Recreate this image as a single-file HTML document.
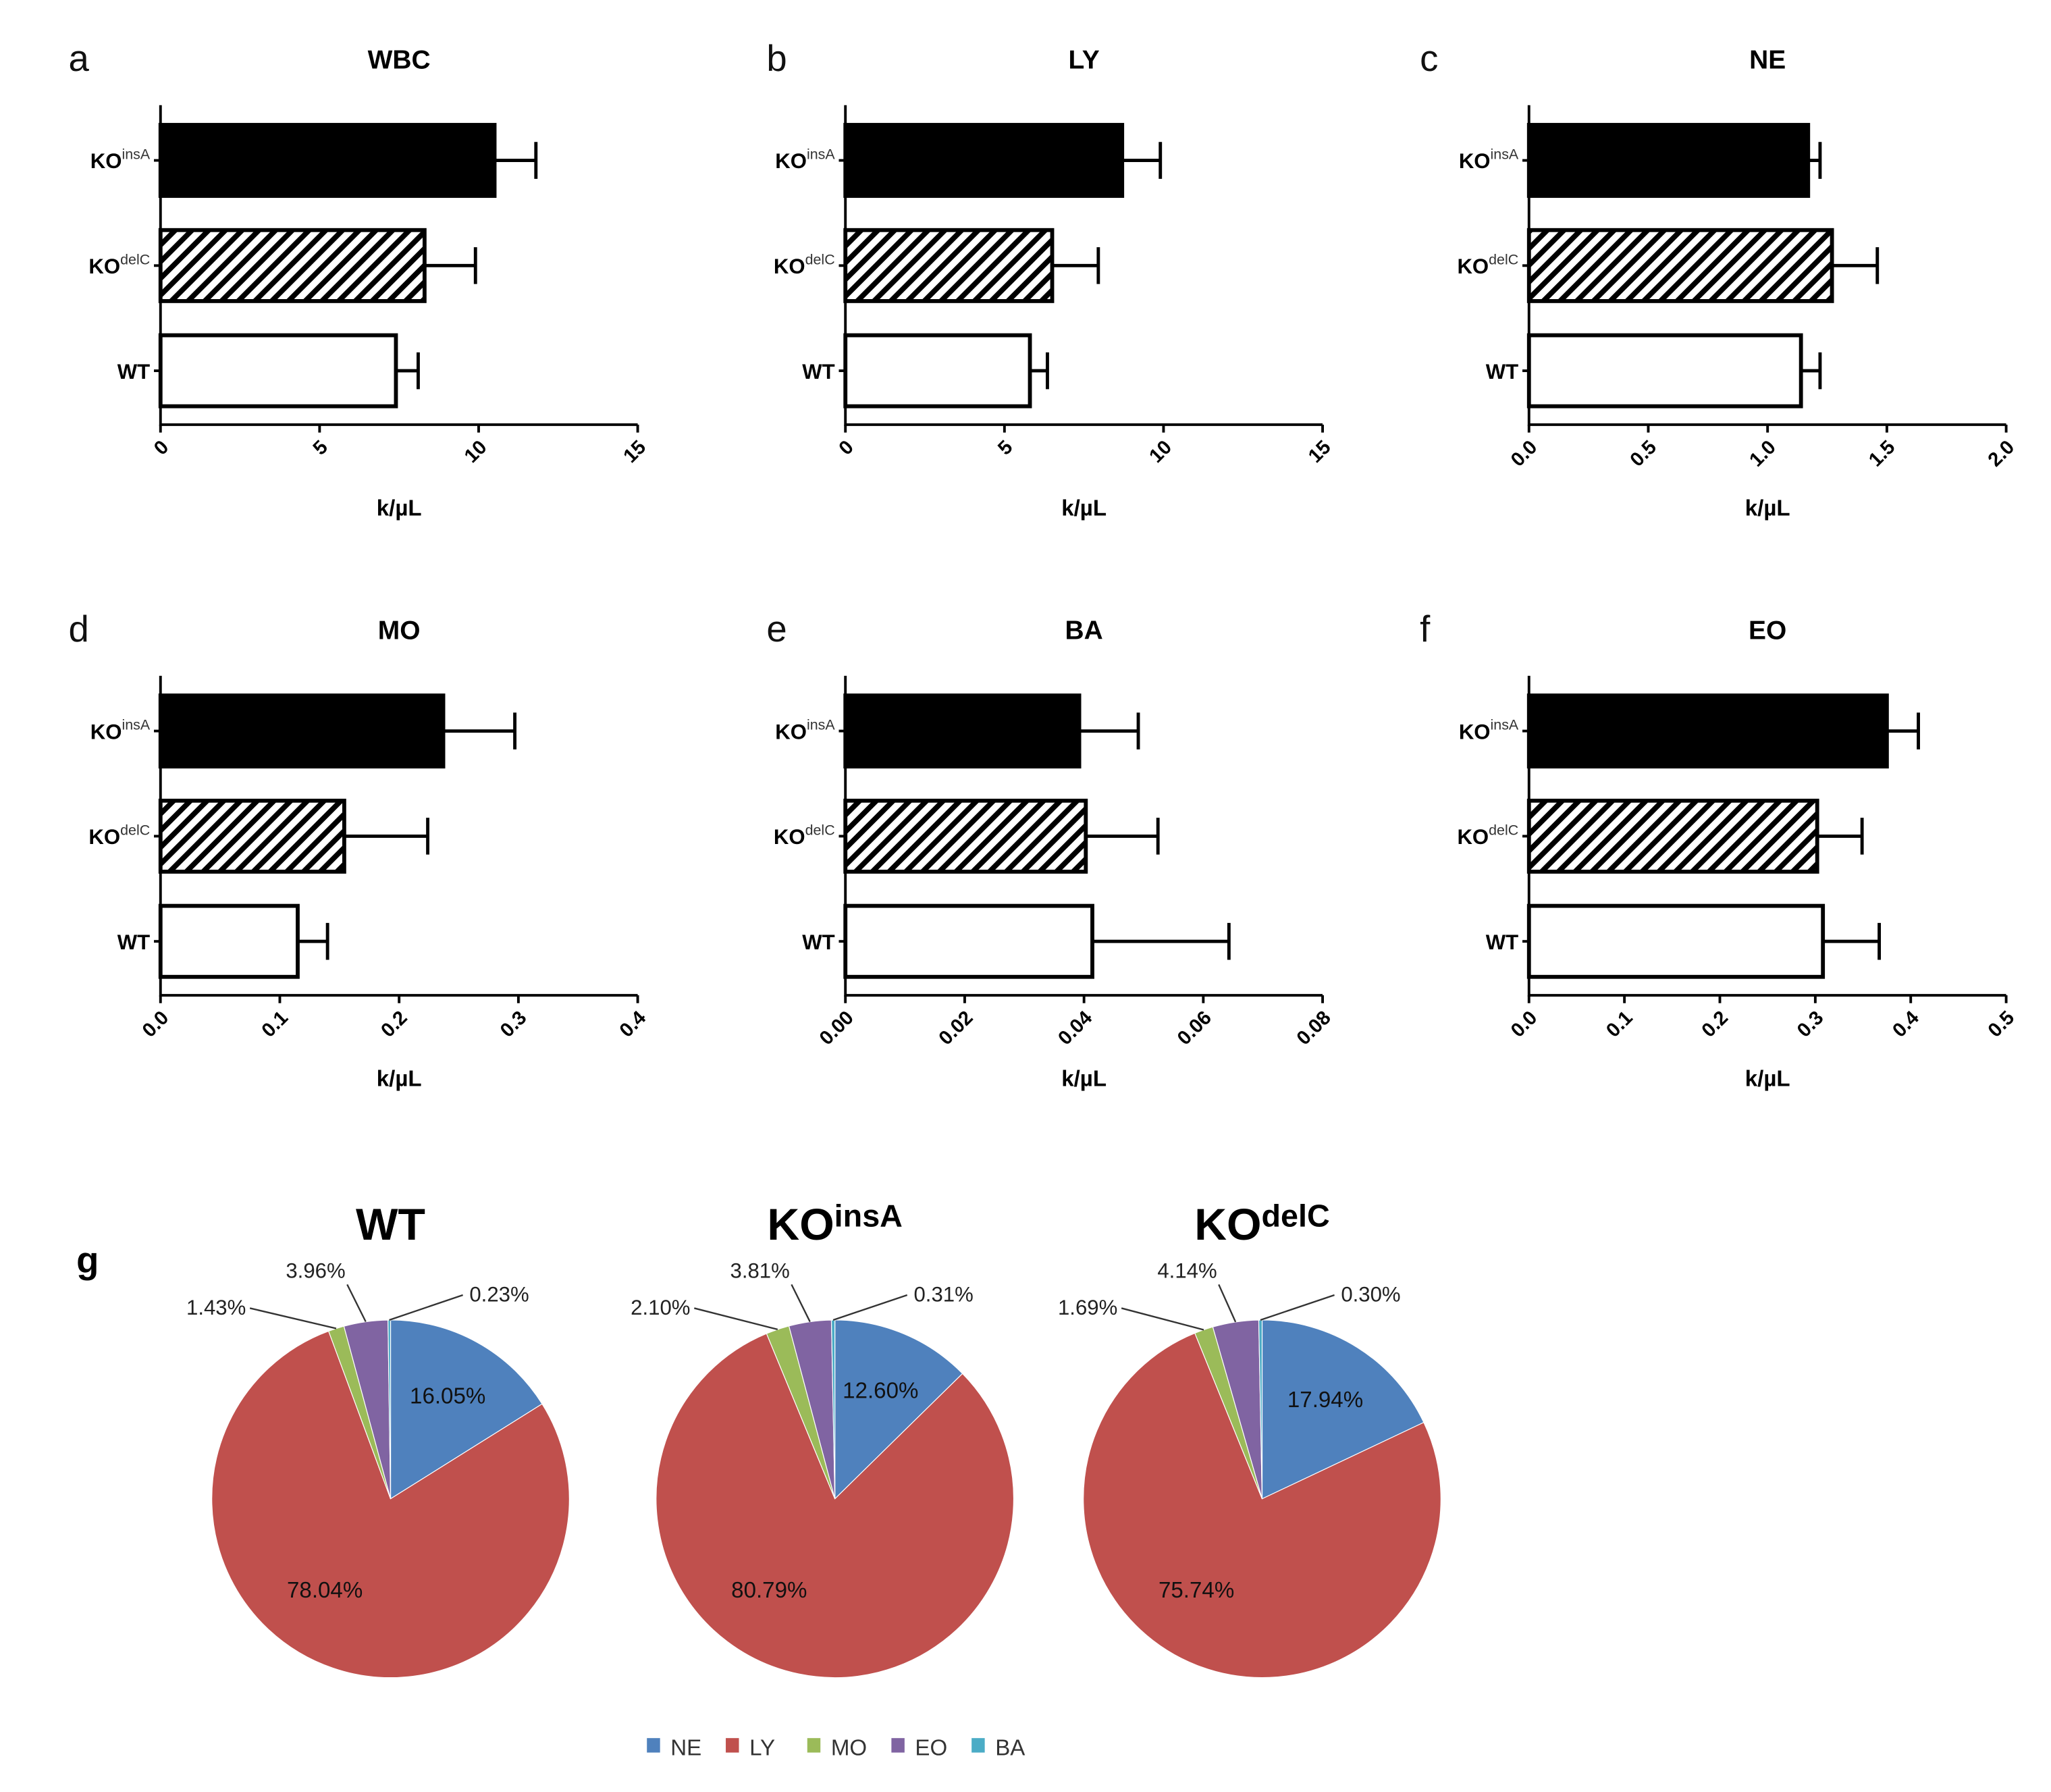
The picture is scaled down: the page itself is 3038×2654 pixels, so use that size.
<!DOCTYPE html>
<html><head><meta charset="utf-8"><style>
html,body{margin:0;padding:0;background:#fff;}
svg{display:block;font-family:"Liberation Sans",sans-serif;}
</style></head><body>
<svg id="fig" width="3038" height="2654" viewBox="0 0 1560 1363" xmlns="http://www.w3.org/2000/svg">
<defs>
<pattern id="hatch" patternUnits="userSpaceOnUse" width="9" height="9" patternTransform="rotate(45)">
<rect width="9" height="9" fill="#fff"/><rect x="0" y="0" width="4" height="9" fill="#000"/>
</pattern>
</defs>
<g id="bars"></g>
<g id="pies"></g>
</svg>
<script>
const categories = ["KOinsA","KOdelC","WT"];
const panelTitles = ["WBC","LY","NE","MO","BA","EO"];
const panelLetters = ["a","b","c","d","e","f"];
const wbcValues = [10.5, 8.3, 7.4];
const wbcErrors = [11.8, 9.9, 8.1];
const lyValues = [8.7, 6.5, 5.8];
const lyErrors = [9.9, 7.95, 6.35];
const neValues = [1.17, 1.27, 1.14];
const neErrors = [1.22, 1.46, 1.22];
const moValues = [0.237, 0.154, 0.115];
const moErrors = [0.297, 0.224, 0.140];
const baValues = [0.0392, 0.0403, 0.0414];
const baErrors = [0.0491, 0.0524, 0.0643];
const eoValues = [0.375, 0.302, 0.308];
const eoErrors = [0.408, 0.349, 0.367];
const wbcTicks = ["0","5","10","15"];
const lyTicks = ["0","5","10","15"];
const neTicks = ["0.0","0.5","1.0","1.5","2.0"];
const moTicks = ["0.0","0.1","0.2","0.3","0.4"];
const baTicks = ["0.00","0.02","0.04","0.06","0.08"];
const eoTicks = ["0.0","0.1","0.2","0.3","0.4","0.5"];

const pieGroups = ["WT","KOinsA","KOdelC"];
const pieLegend = ["NE","LY","MO","EO","BA"];
const pieWT = [16.05, 78.04, 1.43, 3.96, 0.23];
const pieInsA = [12.60, 80.79, 2.10, 3.81, 0.31];
const pieDelC = [17.94, 75.74, 1.69, 4.14, 0.30];

const NS = "http://www.w3.org/2000/svg";
function mk(tag, attrs, parent){const e=document.createElementNS(NS,tag);for(const k in attrs)e.setAttribute(k,attrs[k]);parent.appendChild(e);return e;}

const panelData = [
 [wbcValues,wbcErrors,wbcTicks],[lyValues,lyErrors,lyTicks],[neValues,neErrors,neTicks],
 [moValues,moErrors,moTicks],[baValues,baErrors,baTicks],[eoValues,eoErrors,eoTicks]];
const axX = [122,643,1163];
const letterX = [52,583,1080];
const barsG = document.getElementById('bars');
panelData.forEach((pd,i)=>{
  const col=i%3,row=Math.floor(i/3);
  const dy=row*434, x0=axX[col], x1=x0+363;
  const ticks=pd[2], max=parseFloat(ticks[ticks.length-1]);
  const sx=v=>x0+v/max*(x1-x0);
  const g=mk('g',{},barsG);
  
  
  let t=mk('text',{x:letterX[col],y:54+dy,'font-size':28,fill:'#111'},g);
  t.textContent=panelLetters[i];
  
  
  t=mk('text',{x:(x0+x1)/2,y:52+dy,'font-size':20,'font-weight':'bold','text-anchor':'middle'},g);
  t.textContent=panelTitles[i];
  
  
  const centers=[122,202,282];
  categories.forEach((c,j)=>{
    const cy=centers[j]+dy, v=pd[0][j], e=pd[1][j];
    const fill = j==0?'#000':(j==1?'url(#hatch)':'#fff');
    const r=mk('rect',{x:x0,y:cy-27,width:sx(v)-x0,height:54,fill:fill,stroke:'#000','stroke-width':3},g);
    
    
    const l=mk('path',{d:`M${sx(v)} ${cy}H${sx(e)}M${sx(e)} ${cy-14}V${cy+14}`,stroke:'#000','stroke-width':2.5,fill:'none'},g);
    
    
    mk('line',{x1:x0-5,x2:x0,y1:cy,y2:cy,stroke:'#000','stroke-width':2},g);
    const lt=mk('text',{x:x0-8,y:cy+6,'font-size':16,'font-weight':'bold','text-anchor':'end'},g);
    
    
    if(c==='WT'){lt.textContent='WT';}
    else{
      const a=mk('tspan',{},lt);a.textContent='KO';
      const b=mk('tspan',{dy:-7,'font-size':11,'font-weight':'normal',fill:'#333'},lt);b.textContent=c.slice(2);
    }
  });
  const ax=mk('path',{d:`M${x0} ${80+dy}V${323+dy}H${x1}`,stroke:'#000','stroke-width':2,fill:'none'},g);
  
  
  ticks.forEach(tk=>{
    const x=sx(parseFloat(tk));
    mk('line',{x1:x,x2:x,y1:323+dy,y2:329+dy,stroke:'#000','stroke-width':2},g);
    const tt=mk('text',{x:x+7,y:341+dy,'font-size':15,'font-weight':'bold','text-anchor':'end',transform:`rotate(-45 ${x+7} ${341+dy})`},g);
    tt.textContent=tk;
    
    
  });
  t=mk('text',{x:(x0+x1)/2,y:392+dy,'font-size':17,'font-weight':'bold','text-anchor':'middle'},g);
  t.textContent='k/µL';
  
  
});

const colors=['#4f81bd','#c0504d','#9bbb59','#8064a2','#4bacc6'];
const pieG=document.getElementById('pies');
let gl=mk('text',{x:58,y:968,'font-size':28,'font-weight':'bold'},pieG);
gl.textContent='g';


const pieSets=[pieWT,pieInsA,pieDelC];
const pcx=[297,635,960], pcy=1140, R=136;
const outOff=[null,null,[-110,-140,'end'],[-57,-168,'middle'],[60,-150,'start']];
pieSets.forEach((vals,k)=>{
  const cx=pcx[k];
  const g=mk('g',{},pieG);
  
  
  const tt=mk('text',{x:cx,y:943,'font-size':34,'font-weight':'bold','text-anchor':'middle'},g);
  
  
  if(pieGroups[k]==='WT')tt.textContent='WT';
  else{const a=mk('tspan',{},tt);a.textContent='KO';const b=mk('tspan',{dy:-10,'font-size':24},tt);b.textContent=pieGroups[k].slice(2);}
  const tot=vals.reduce((a,b)=>a+b,0);
  let acc=0;
  const pt=(f,r)=>{const a=f*2*Math.PI;return [cx+r*Math.sin(a),pcy-r*Math.cos(a)];};
  vals.forEach((v,s)=>{
    const f0=acc/tot, f1=(acc+v)/tot; acc+=v;
    const p0=pt(f0,R),p1=pt(f1,R);
    const sl=mk('path',{d:`M${cx} ${pcy}L${p0[0]} ${p0[1]}A${R} ${R} 0 ${f1-f0>0.5?1:0} 1 ${p1[0]} ${p1[1]}Z`,fill:colors[s],stroke:'#fff','stroke-width':0.6},g);
    
    
    const label=v.toFixed(2)+'%';
    if(s===0){
      const m=pt((f0+f1)/2,R*0.66);
      const t=mk('text',{x:m[0],y:m[1]+6,'font-size':17,'text-anchor':'middle',fill:'#111'},g);t.textContent=label;
      
    } else if(s===1){
      const t=mk('text',{x:cx-50,y:pcy+75,'font-size':17,'text-anchor':'middle',fill:'#111'},g);t.textContent=label;
      
    } else {
      const o=outOff[s], m=pt((f0+f1)/2,R);
      const lx=cx+o[0], ly=pcy+o[1];
      const t=mk('text',{x:lx,y:ly,'font-size':16,'text-anchor':o[2],fill:'#222'},g);t.textContent=label;
      
      let sx0 = o[2]==='end'? lx+3 : (o[2]==='start'? lx-5 : lx+24);
      let sy0 = o[2]==='middle'? ly+5 : ly-5;
      mk('path',{d:`M${sx0} ${sy0}L${m[0]} ${m[1]}`,stroke:'#333','stroke-width':1.2,fill:'none'},g);
    }
  });
});
const legX=[492,552,614,678,739];
pieLegend.forEach((n,i)=>{
  const r=mk('rect',{x:legX[i],y:1322,width:10,height:11,fill:colors[i]},pieG);
  
  
  const t=mk('text',{x:legX[i]+18,y:1335,'font-size':17,fill:'#333'},pieG);
  t.textContent=n;
  
  
});
</script>
</body></html>
